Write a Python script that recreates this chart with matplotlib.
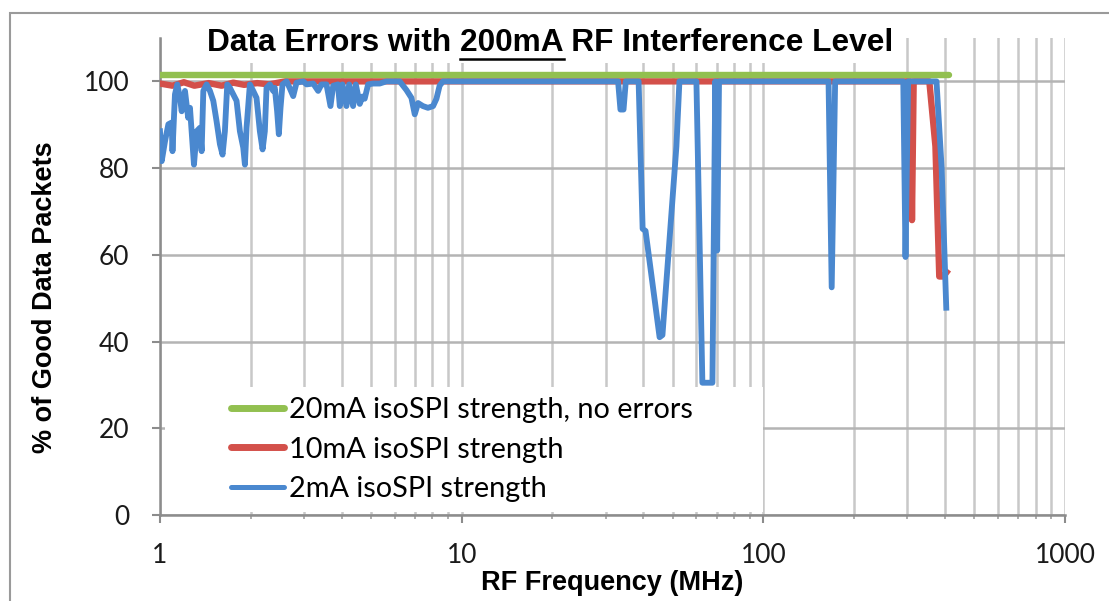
import matplotlib
matplotlib.use("Agg")
import matplotlib.pyplot as plt
from matplotlib.patches import Rectangle
from matplotlib.lines import Line2D
from matplotlib.ticker import FixedLocator, NullFormatter

# values
green_freq = [1.0, 413.0]
green_pct = [101.5, 101.5]

red_freq = [1.0, 1.1, 1.2, 1.3, 1.45, 1.6, 1.75, 1.9, 2.1, 2.3, 2.6, 3.0,
            308.0, 311.0, 315.0, 355.0, 372.0, 383.0, 395.0, 405.0]
red_pct = [99.5, 99.0, 99.8, 99.0, 99.6, 99.0, 99.7, 99.2, 99.6, 99.3, 100, 100,
           100, 68, 100, 100, 85, 55, 55, 56]

blue_freq = [1.0, 1.013, 1.039, 1.066, 1.093, 1.10, 1.121, 1.141, 1.165, 1.18,
             1.21, 1.24, 1.257, 1.273, 1.296, 1.323, 1.357, 1.374, 1.392, 1.427,
             1.464, 1.502, 1.54, 1.58, 1.612, 1.641, 1.671, 1.705, 1.749, 1.794,
             1.84, 1.888, 1.912, 1.936, 1.986, 2.037, 2.089, 2.143, 2.188, 2.226,
             2.255, 2.313, 2.372, 2.402, 2.445, 2.477, 2.509, 2.547, 2.628, 2.69,
             2.764, 2.835, 2.983, 3.06, 3.22, 3.344, 3.43, 3.564, 3.674, 3.75,
             3.89, 3.945, 4.026, 4.15, 4.236, 4.366, 4.457, 4.594, 4.69, 4.77,
             4.897, 5.086, 5.35, 5.63, 6.23, 6.56, 6.815, 6.99, 7.17, 7.44,
             7.73, 8.04, 8.25, 8.45, 8.67, 33.0, 33.6, 34.4, 35.0, 38.6,
             39.8, 40.7, 45.3, 46.3, 51.5, 52.7, 60.0, 62.8, 67.8, 69.3,
             70.3, 71.3, 164.5, 168.5, 173.0, 291.0, 296.0, 302.0,
             368.0, 375.0, 390.0, 404.0]
blue_pct = [88.5, 81.6, 86.2, 90.1, 90.5, 83.9, 97.0, 99.3, 96.2, 93.1,
            97.8, 91.6, 93.9, 88.5, 80.8, 88.5, 89.3, 83.9, 97.8, 99.3,
            97.8, 95.5, 90.8, 85.5, 83.1, 88.5, 99.3, 98.5, 97.0, 95.5,
            88.5, 84.7, 80.8, 89.3, 99.3, 97.8, 96.2, 88.5, 84.3, 88.5,
            98.5, 99.3, 97.8, 98.5, 93.1, 87.8, 93.9, 99.3, 100, 98.5,
            96.6, 99.7, 100, 99.3, 99.5, 97.8, 99.3, 99.3, 94.3, 99.0,
            99.3, 94.3, 99.3, 94.3, 99.3, 94.3, 99.3, 94.8, 96.5, 96.0,
            99.3, 99.5, 99.5, 100, 100, 98.0, 96.2, 92.4, 95.0, 94.3,
            93.9, 94.3, 96.0, 99.0, 100, 100, 93.5, 93.5, 100, 100,
            66.0, 65.5, 41.0, 41.5, 85.0, 100, 100, 30.5, 30.5, 100,
            61.0, 100, 100, 52.5, 100, 100, 59.5, 100,
            100, 100, 80.0, 47.8]

x_ticks = [1, 10, 100, 1000]
x_tick_labels = ["1", "10", "100", "1000"]
y_ticks = [0, 20, 40, 60, 80, 100]
legend_labels = ["20mA isoSPI strength, no errors", "10mA isoSPI strength", "2mA isoSPI strength"]
title_txt = "Data Errors with 200mA RF Interference Level"
underlined = "200mA"

W, H = 1109, 601
GREEN, RED, BLUE = "#92c050", "#d3504a", "#4a88cf"
TICKFONT = "Lato"
BOLDFONT = "Liberation Sans"

fig = plt.figure(figsize=(W / 100, H / 100), dpi=100)
ax = fig.add_axes([160 / W, 1 - 515 / H, 905 / W, 477 / H])

# outer chart border (cut off on the right and bottom)
fig.add_artist(Rectangle((10 / W, -0.1), 1.2, 1.1 - 13 / H, transform=fig.transFigure,
                         fill=False, edgecolor="#9a9a9a", lw=1.5))

ax.set_xscale("log")
ax.set_xlim(1, 1000)
ax.set_ylim(0, 110)

ax.plot(red_freq, red_pct, color=RED, lw=4.6, solid_joinstyle="round", zorder=3)
ax.plot(blue_freq, blue_pct, color=BLUE, lw=4.2, solid_joinstyle="round", zorder=4)
ax.plot(green_freq, green_pct, color=GREEN, lw=4.6, solid_capstyle="round", zorder=5)

# grid
ax.xaxis.set_major_locator(FixedLocator(x_ticks))
minor = [m * 10 ** e for e in range(0, 3) for m in range(2, 10)]
ax.xaxis.set_minor_locator(FixedLocator(minor))
ax.xaxis.set_minor_formatter(NullFormatter())
ax.set_xticks(x_ticks, x_tick_labels)
ax.set_yticks(y_ticks)
ax.grid(True, which="both", axis="x", color="#c8c8c8", lw=1.8, zorder=0)
ax.grid(True, which="major", axis="y", color="#b4b4b4", lw=1.8, zorder=0)
ax.set_axisbelow(True)

for s in ["top", "right"]:
    ax.spines[s].set_visible(False)
for s in ["left", "bottom"]:
    ax.spines[s].set_color("#8c8c8c")
    ax.spines[s].set_linewidth(1.8)

ax.tick_params(axis="both", which="major", direction="out", length=6, width=1.5,
               color="#8c8c8c", labelsize=19, labelcolor="#1a1a1a")
ax.tick_params(axis="x", which="major", pad=14)
ax.tick_params(axis="y", which="major", pad=16)
ax.tick_params(axis="x", which="minor", direction="out", length=3, width=1.2, color="#a0a0a0")
for lab in ax.get_xticklabels() + ax.get_yticklabels():
    lab.set_family(TICKFONT)

ax.set_xlabel("RF Frequency (MHz)", fontsize=19.5, fontweight="bold", family=BOLDFONT)
ax.set_ylabel("% of Good Data Packets", fontsize=19.5, fontweight="bold", family=BOLDFONT, va="center")
ax.xaxis.set_label_coords(0.5, -0.115)
ax.yaxis.set_label_coords(-0.127, 0.457)

# white boxes behind the title and the legend
ax.add_patch(Rectangle((0.006, 0.948), 0.812, 0.07, transform=ax.transAxes,
                       facecolor="white", edgecolor="none", zorder=1, clip_on=False))
ax.add_patch(Rectangle((0.006, 0.006), 0.66, 0.262, transform=ax.transAxes,
                       facecolor="white", edgecolor="none", zorder=1))

handles = [Line2D([], [], color=GREEN, lw=5, solid_capstyle="round"),
           Line2D([], [], color=RED, lw=5, solid_capstyle="round"),
           Line2D([], [], color=BLUE, lw=3.6, solid_capstyle="round")]
ax.legend(handles, legend_labels, loc="upper left", bbox_to_anchor=(0.078, 0.248),
          frameon=False, borderpad=0, borderaxespad=0, handlelength=1.85,
          handletextpad=0.16, labelspacing=0.48, prop={"family": TICKFONT, "size": 20.8})

# title with underlined part
title_kw = dict(fontsize=22.8, fontweight="bold", family=BOLDFONT)
t = fig.text(0.496, 1 - 43 / H, title_txt, ha="center", va="center", **title_kw)
r = fig.canvas.get_renderer()
bb = t.get_window_extent(r)
head = title_txt[:title_txt.index(underlined) + len(underlined)]
tmp = fig.text(0, 0, head, **title_kw)
w_head = tmp.get_window_extent(r).width
tmp.remove()
tmp = fig.text(0, 0, underlined, **title_kw)
w_u = tmp.get_window_extent(r).width
tmp.remove()
x1 = bb.x0 + w_head
x0 = x1 - w_u
yu = 1 - 59 / H
fig.add_artist(Line2D([x0 / W, x1 / W], [yu, yu], transform=fig.transFigure, color="black", lw=1.8))

fig.savefig("out.png", dpi=100)
